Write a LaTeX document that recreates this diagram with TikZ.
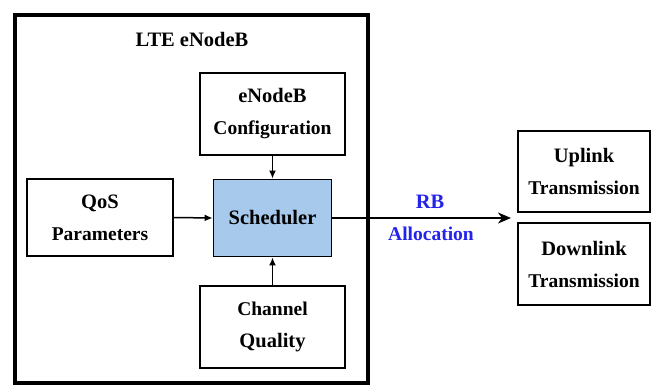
\documentclass[tikz,border=0pt]{standalone}
\usepackage{fontspec}
\setmainfont{Liberation Serif}
\usetikzlibrary{arrows.meta}
\definecolor{schfill}{RGB}{166,201,236}
\definecolor{rbblue}{RGB}{35,35,235}
\newcommand{\subline}[1]{{\fontsize{19.5}{32}\selectfont #1}}
\begin{document}
\begin{tikzpicture}[x=1pt,y=1pt,
  blk/.style={draw, line width=1.8pt, minimum width=145pt, minimum height=82pt, align=center, inner sep=0pt,
    font=\bfseries\fontsize{20.5}{32}\selectfont},
  arr/.style={line width=1.5pt, -{Latex[length=8pt,width=7pt]}}
]
\useasboundingbox (0,0) rectangle (654,-385);
\draw[line width=4pt] (15,-15) rectangle (368,-383);
\node[font=\bfseries\fontsize{20.5}{24}\selectfont] (title) at (192,-39) {LTE eNodeB};
\node[blk] (cfg) at (272.5,-114) {eNodeB\\\subline{Configuration}};
\node[blk, minimum width=118pt, minimum height=77pt, fill=schfill] (sch) at (272.5,-218) {Scheduler};
\node[blk, minimum width=146pt, minimum height=77pt] (qos) at (100,-217.5) {QoS\\\subline{Parameters}};
\node[blk] (chq) at (272.5,-327) {\subline{Channel}\\Quality};
\node[blk, minimum width=132pt, minimum height=81pt] (up) at (584,-171.5) {Uplink\\\subline{Transmission}};
\node[blk, minimum width=132pt, minimum height=82pt] (down) at (584,-264) {Downlink\\\subline{Transmission}};
\coordinate (tip) at (511,-218);
\draw[arr] (cfg.south) -- (sch.north);
\draw[arr] (chq.north) -- (sch.south);
\draw[arr] (qos.east) -- (sch.west);
\draw[line width=1.6pt, -{Stealth[length=13pt,width=11pt,inset=4pt]}] (sch.east) -- (tip);
\node[text=rbblue, font=\bfseries\fontsize{20.5}{24}\selectfont] (rb) at (430,-202) {RB};
\node[text=rbblue, font=\bfseries\fontsize{19.5}{24}\selectfont] (alloc) at (431,-234) {Allocation};
\end{tikzpicture}
\end{document}
